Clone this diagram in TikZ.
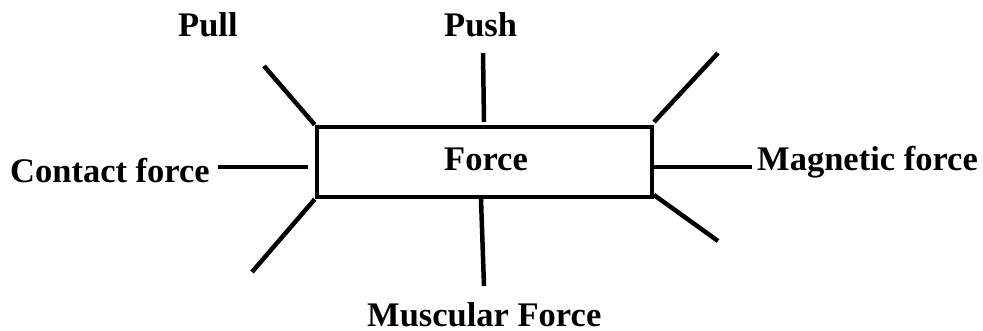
\documentclass[tikz,border=0pt]{standalone}
\usepackage{fontspec}
\setmainfont{Liberation Serif}
\begin{document}
\begin{tikzpicture}[x=1pt, y=-1pt, line cap=butt, line join=miter,
    lbl/.style={font=\fontsize{34.5}{40}\selectfont\bfseries, inner sep=0pt, anchor=base west},
    spoke/.style={line width=4.5pt}]
    \useasboundingbox (0,0) rectangle (983,331);
    % --- 中央の箱 ---
    \node[draw, line width=4.5pt, minimum width=335pt, minimum height=70pt, inner sep=0pt] (force) at (484.5,162) {};
    \node[lbl] (forcetxt) at (444,171) {Force};
    % --- ラベル ---
    \node[lbl] (pull) at (178,37) {Pull};
    \node[lbl] (push) at (444,37) {Push};
    \node[lbl] (contact) at (10,183) {Contact force};
    \node[lbl] (magnetic) at (757,171) {Magnetic force};
    \node[lbl] (muscular) at (367,326) {Muscular Force};
    % --- 線の端点 ---
    \coordinate (tl) at (264,66);
    \coordinate (tc) at (483,53);
    \coordinate (tcb) at (484,122);
    \coordinate (tr) at (718,53);
    \coordinate (trb) at (654,122);
    \coordinate (bl) at (252,272);
    \coordinate (bc) at (484,286);
    \coordinate (bcb) at (481,199);
    \coordinate (br) at (718,241);
    \coordinate (brb) at (654,195);
    \coordinate (lfta) at (218,167);
    \coordinate (lftb) at (308,167);
    \coordinate (rgta) at (654,167);
    \coordinate (rgtb) at (752,167);
    % --- 線 ---
    \draw[spoke] (tl) -- (force.north west);
    \draw[spoke] (tc) -- (tcb);
    \draw[spoke] (tr) -- (trb);
    \draw[spoke] (lfta) -- (lftb);
    \draw[spoke] (rgta) -- (rgtb);
    \draw[spoke] (force.south west) -- (bl);
    \draw[spoke] (bcb) -- (bc);
    \draw[spoke] (brb) -- (br);
\end{tikzpicture}
\end{document}
